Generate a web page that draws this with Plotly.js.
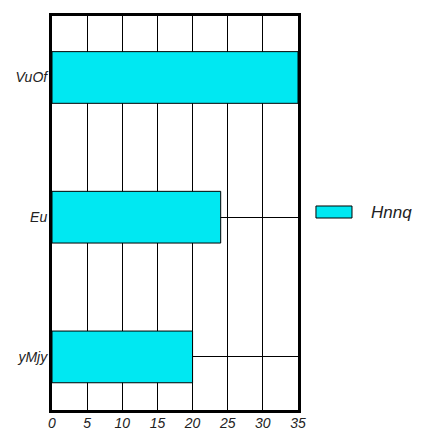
<!DOCTYPE html>
<html>
<head>
<meta charset="utf-8">
<script src="https://cdn.plot.ly/plotly-3.0.1.min.js"></script>
<style>html,body{margin:0;padding:0;background:#fff;}#chart{width:444px;height:444px;}</style>
</head>
<body>
<div id="chart"></div>
<script>
const categories = ['yMjy', 'Eu', 'VuOf'];
const values = [20, 24, 35];
const seriesName = 'Hnnq';
const xTicks = [0, 5, 10, 15, 20, 25, 30, 35];
const barColor = '#00E8F2';

const trace = {
  type: 'bar',
  orientation: 'h',
  y: categories,
  x: values,
  name: seriesName,
  showlegend: false,
  marker: {color: barColor, line: {color: '#000', width: 1}}
};

const fontFam = '"Liberation Sans", Arial, sans-serif';
const layout = {
  width: 444, height: 444,
  margin: {l: 52, r: 146, t: 16, b: 34},
  paper_bgcolor: '#fff', plot_bgcolor: '#fff',
  bargap: 0.63,
  font: {family: fontFam, color: '#222', size: 14},
  xaxis: {
    range: [0, 35], tickvals: xTicks, ticktext: xTicks.map(String),
    showgrid: true, gridcolor: '#000', gridwidth: 1,
    showline: true, linecolor: '#000', linewidth: 3, mirror: true,
    ticks: '', zeroline: false, ticklabelstandoff: -2,
    tickfont: {family: fontFam, size: 14, style: 'italic', color: '#222'}
  },
  yaxis: {
    type: 'category', range: [-0.38, 2.44],
    showgrid: true, gridcolor: '#000', gridwidth: 1,
    showline: true, linecolor: '#000', linewidth: 3, mirror: true,
    ticks: '', zeroline: false, ticklabelstandoff: -1,
    tickfont: {family: fontFam, size: 14, style: 'italic', color: '#222'}
  },
  shapes: [{
    type: 'rect', xref: 'paper', yref: 'paper',
    x0: 1.073, x1: 1.2195, y0: 0.4873, y1: 0.5178,
    fillcolor: barColor, line: {color: '#000', width: 1}
  }],
  annotations: [{
    xref: 'paper', yref: 'paper', x: 1.2886, y: 0.5025,
    xanchor: 'left', yanchor: 'middle', showarrow: false,
    text: seriesName,
    font: {family: fontFam, size: 17, style: 'italic', color: '#222'}
  }]
};

Plotly.newPlot('chart', [trace], layout, {displayModeBar: false, staticPlot: true});
</script>
</body>
</html>
